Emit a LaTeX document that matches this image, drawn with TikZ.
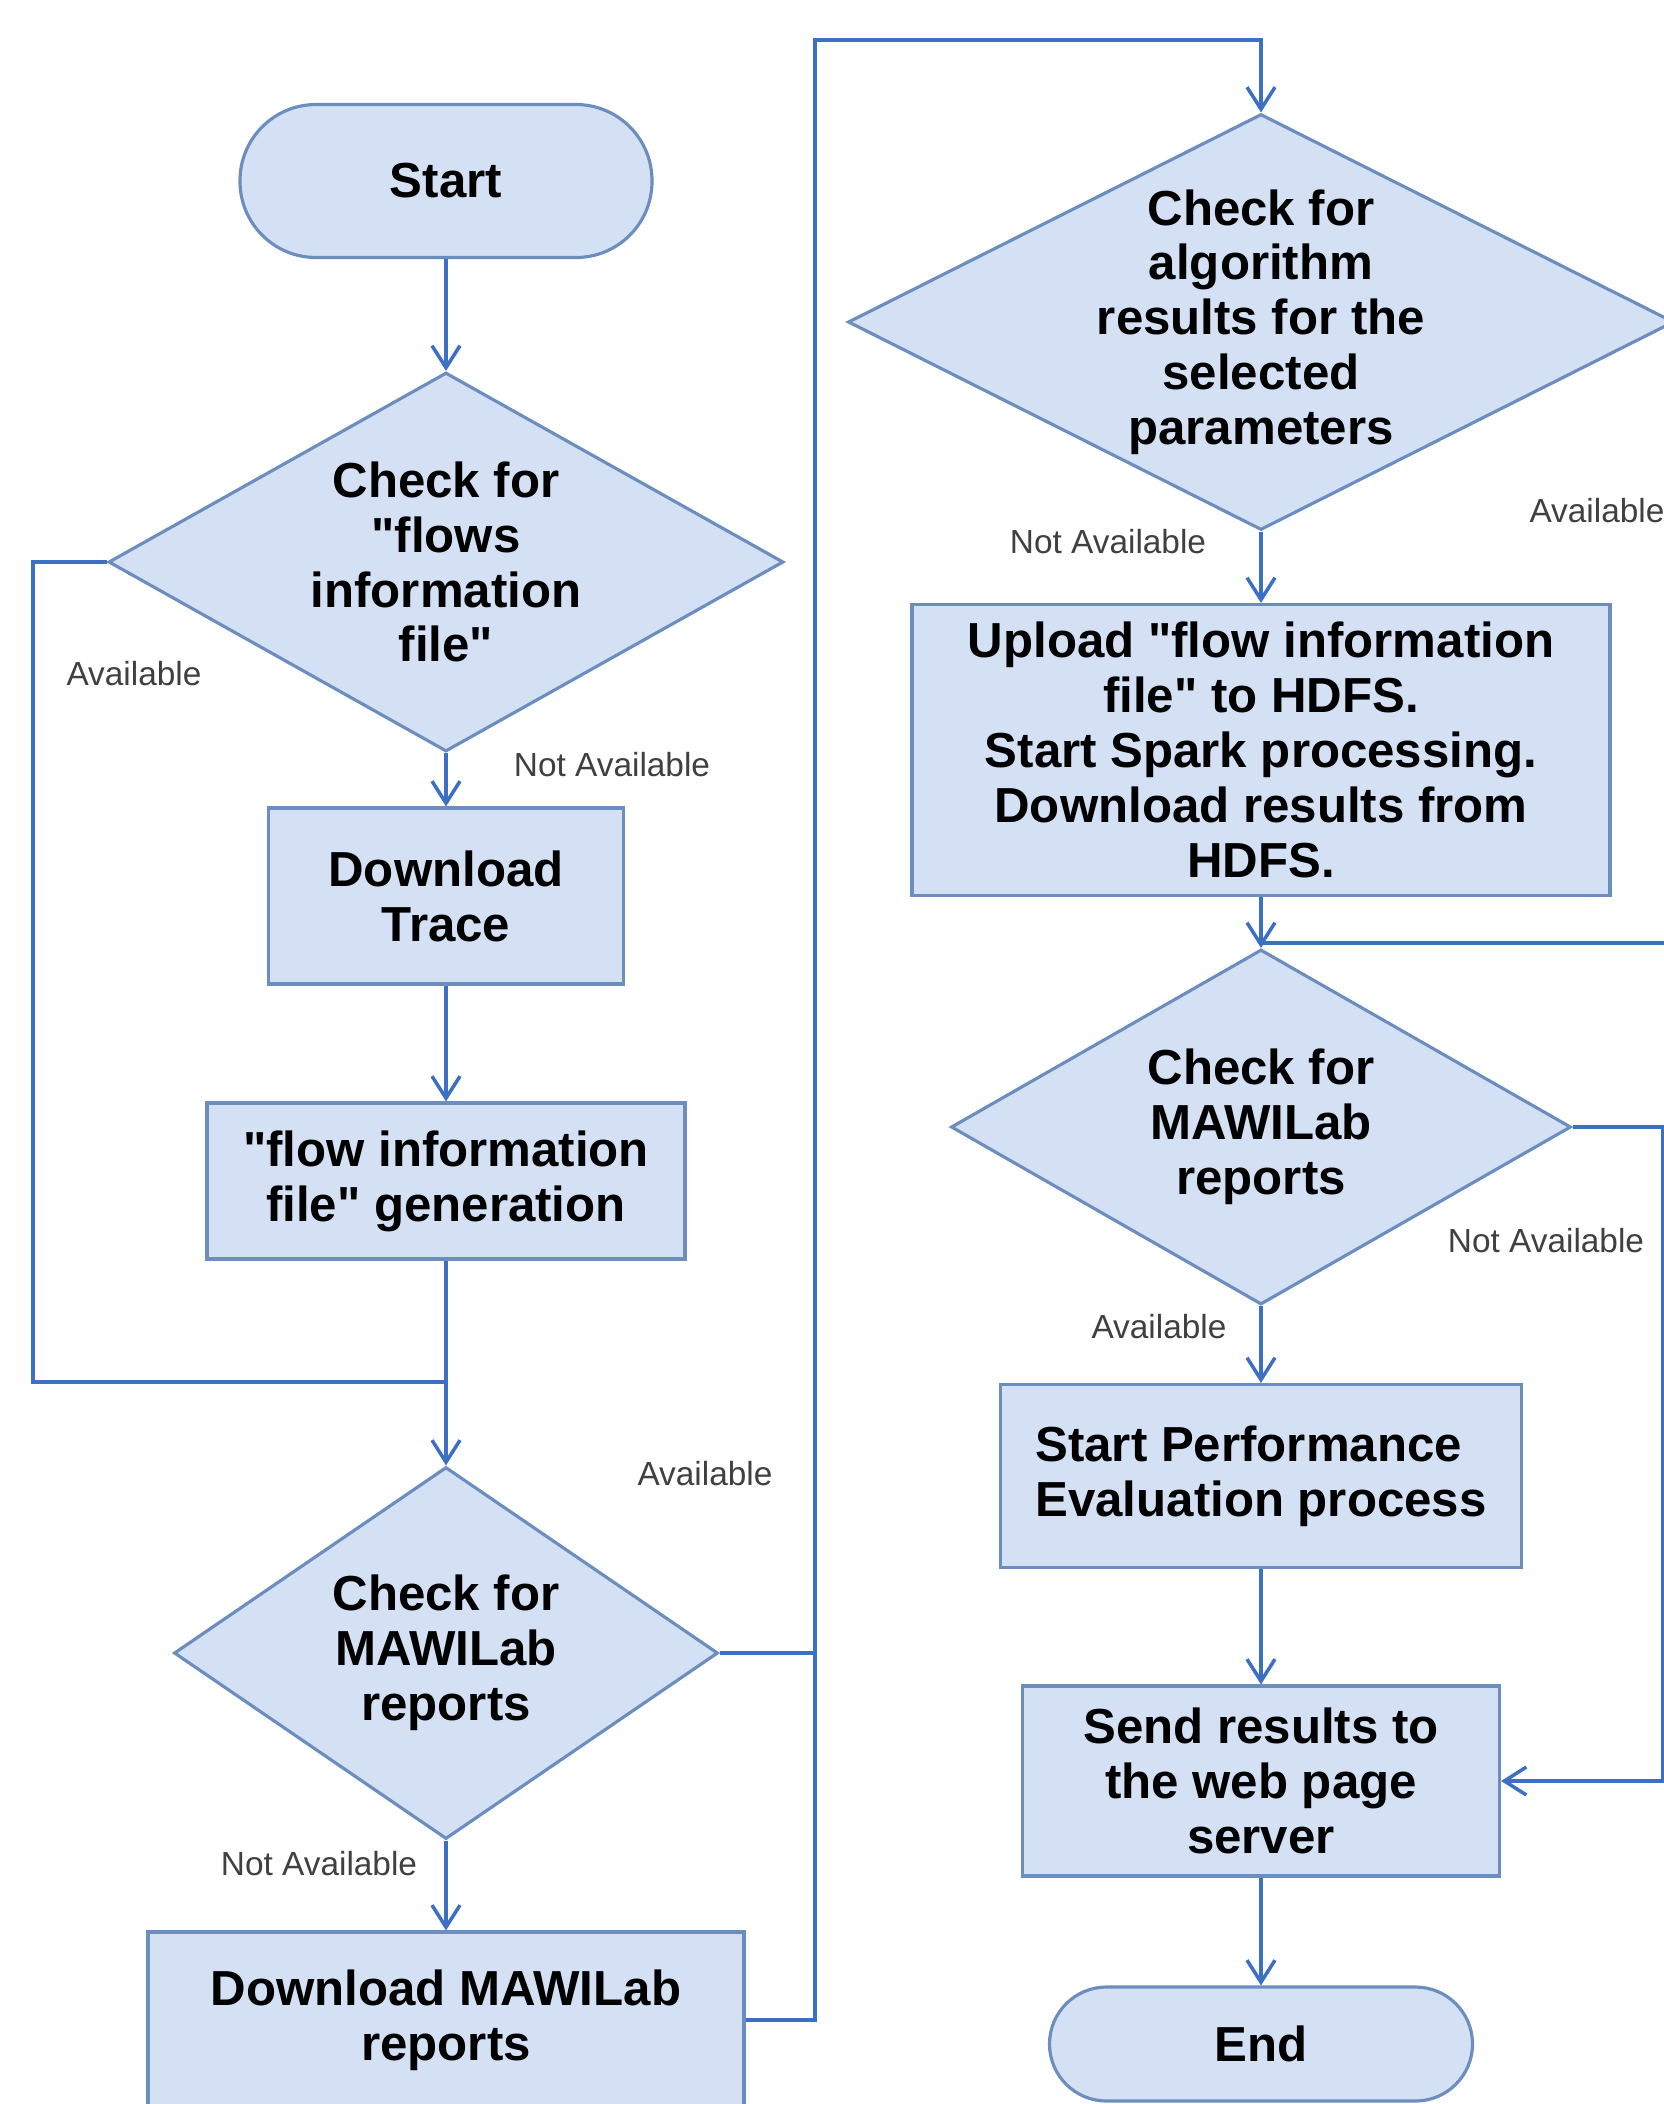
\documentclass[tikz,border=0pt]{standalone}
\usepackage{fontspec}
\setmainfont{Liberation Sans}[Ligatures=TeXOff]
\usepackage{xcolor}
\usetikzlibrary{shapes.geometric}
\usetikzlibrary{arrows.meta}

\definecolor{boxfill}{HTML}{D4E1F5}
\definecolor{boxline}{HTML}{6C8EBF}
\definecolor{linkblue}{HTML}{3D6FC4}
\definecolor{lblgray}{HTML}{404040}

\begin{document}
\begin{tikzpicture}[x=0.1mm, y=-0.1mm,
  every node/.style={font=\bfseries\fontsize{14}{15.6}\selectfont},
  terminal/.style={rectangle, draw=boxline, fill=boxfill, line width=0.9pt, inner sep=0pt, align=center},
  process/.style={rectangle, draw=boxline, fill=boxfill, line width=0.9pt, inner sep=0pt, align=center},
  decision/.style={diamond, draw=boxline, fill=boxfill, line width=0.9pt, inner sep=0pt},
  dtext/.style={align=center, inner sep=0pt},
  link/.style={draw=linkblue, line width=1pt},
  flow/.style={link, -{Straight Barb[length=2.2mm, width=2.8mm]}},
  lbl/.style={font=\fontsize{9.5}{11}\selectfont, text=lblgray, inner sep=1pt}]

  \useasboundingbox (0,0) rectangle (1664,2104);
  \fill[white] (0,0) rectangle (1664,2104);

  % Linke Spalte
  \node[terminal, minimum width=41.2mm, minimum height=15.3mm, rounded corners=7.6mm] (start) at (446,181) {Start};
  \node[decision, minimum width=67.5mm, minimum height=37.9mm] (chk1) at (446,562) {};
  \node[dtext] (chk1t) at (chk1) {Check for\\"flows\\information\\file"};
  \node[process, minimum width=35.5mm, minimum height=17.6mm] (dltrace) at (446,896) {Download\\Trace};
  \node[process, minimum width=47.8mm, minimum height=15.6mm] (gen) at (446,1181) {"flow information\\file" generation};
  \node[decision, minimum width=54.4mm, minimum height=37.2mm] (chk2) at (446,1653) {};
  \node[dtext] (chk2t) at (chk2) {Check for\\MAWILab\\reports};
  \node[process, minimum width=59.6mm, minimum height=17.6mm] (dlmawi) at (446,2020) {Download MAWILab\\reports};

  % Rechte Spalte
  \node[decision, minimum width=82.6mm, minimum height=41.6mm] (chk3) at (1261,322) {};
  \node[dtext] (chk3t) at (chk3) {Check for\\algorithm\\results for the\\selected\\parameters};
  \node[process, minimum width=69.8mm, minimum height=29.1mm] (upload) at (1261,750) {Upload "flow information\\file" to HDFS.\\Start Spark processing.\\Download results from\\HDFS.};
  \node[decision, minimum width=62mm, minimum height=35.5mm] (chk4) at (1261,1127) {};
  \node[dtext] (chk4t) at (chk4) {Check for\\MAWILab\\reports};
  \node[process, minimum width=52.1mm, minimum height=18.3mm, align=left] (perf) at (1261,1476) {Start Performance\\Evaluation process};
  \node[process, minimum width=47.7mm, minimum height=19mm] (send) at (1261,1781) {Send results to\\the web page\\server};
  \node[terminal, minimum width=42.3mm, minimum height=11.4mm, rounded corners=5.7mm] (end) at (1261,2044) {End};

  \coordinate (merge1) at (446,1382);
  \coordinate (bus) at (815,40);
  \coordinate (merge2) at (1261,943);

  % Verbindungen
  \draw[flow] (start.south) -- (chk1.north);
  \draw[flow] (chk1.south) -- (dltrace.north);
  \draw[flow] (dltrace.south) -- (gen.north);
  \draw[link] (chk1.west) -- ++(-74,0) |- (merge1);
  \draw[flow] (gen.south) -- (chk2.north);
  \draw[flow] (chk2.south) -- (dlmawi.north);
  \draw[link] (chk2.east) -- (chk2.east -| bus);
  \draw[flow] (dlmawi.east) -| (bus) -| (chk3.north);
  \draw[flow] (chk3.south) -- (upload.north);
  \draw[link] (chk3.east) -- ++(40,0) |- (merge2);
  \draw[flow] (upload.south) -- (chk4.north);
  \draw[flow] (chk4.south) -- (perf.north);
  \draw[flow] (perf.south) -- (send.north);
  \draw[flow] (send.south) -- (end.north);
  \draw[flow] (chk4.east) -- ++(90,0) |- (send.east);

  % Beschriftungen
  \node[lbl] (l1) at (134,674) {Available};
  \node[lbl] (l2) at (612,765) {Not Available};
  \node[lbl] (l3) at (705,1474) {Available};
  \node[lbl] (l4) at (319,1864) {Not Available};
  \node[lbl] (l5) at (1108,542) {Not Available};
  \node[lbl] (l6) at (1597,511) {Available};
  \node[lbl] (l7) at (1546,1241) {Not Available};
  \node[lbl] (l8) at (1159,1327) {Available};
\end{tikzpicture}
\end{document}
